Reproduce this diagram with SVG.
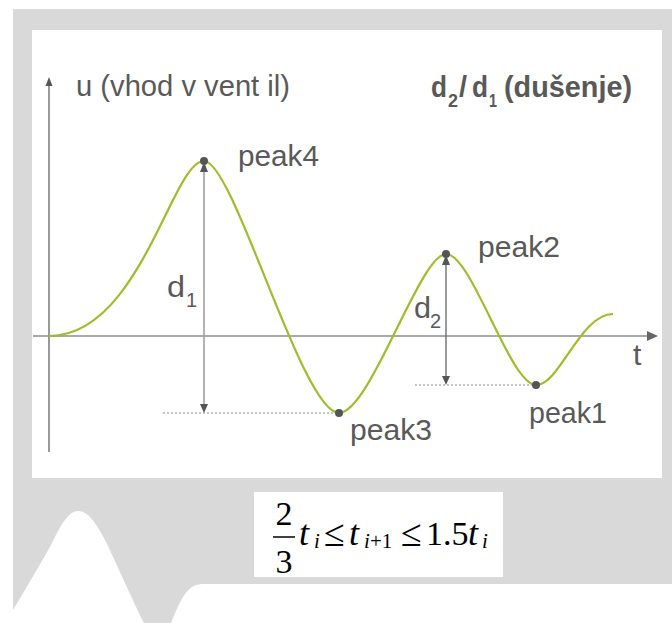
<svg xmlns="http://www.w3.org/2000/svg" width="672" height="623" viewBox="0 0 672 623">
<style>
.lbl{font-family:"Liberation Sans",Arial,sans-serif;font-size:30px;fill:#595959}
.sub{font-family:"Liberation Sans",Arial,sans-serif;font-size:20px;fill:#595959}
.bold{font-family:"Liberation Sans",Arial,sans-serif;font-size:29px;font-weight:bold;fill:#595959}
.bsub{font-family:"Liberation Sans",Arial,sans-serif;font-size:19px;font-weight:bold;fill:#595959}
.m{font-family:"Liberation Serif","Times New Roman",serif;font-size:34px;fill:#000}
.le{font-family:"Liberation Serif","Times New Roman",serif;font-size:38px;fill:#000}
.mi{font-family:"Liberation Serif","Times New Roman",serif;font-size:36px;font-style:italic;fill:#000}
.ms{font-family:"Liberation Serif","Times New Roman",serif;font-size:21px;fill:#000}
.msi{font-family:"Liberation Serif","Times New Roman",serif;font-size:21px;font-style:italic;fill:#000}
.dot{fill:#555}
.dotted{stroke:#8a8a8a;stroke-width:1;stroke-dasharray:2 2;fill:none}
.ah{fill:#555}
</style>
<g id="background">
<rect x="0" y="0" width="672" height="623" fill="#fff"/>
<rect x="13" y="9" width="659" height="614" fill="#d9d9d9"/>
<rect x="32" y="30" width="630" height="448" fill="#fff"/>
<path d="M13,610 C25,590 40,565 52,543 C60,527 68,511 78,511 C88,511 96,523 104,538 C115,560 130,595 144,623 L13,623 Z" fill="#fff"/>
<path d="M171,623 C177,608 183,593 192,587 C197,584 200,584 206,584 L672,584 L672,623 Z" fill="#fff"/>
</g>
<g id="axes">
<line x1="49" y1="452" x2="49" y2="84" stroke="#555" stroke-width="1.2"/>
<polygon class="ah" points="49,77 45.5,86 52.5,86"/>
<line x1="33" y1="336" x2="650" y2="336" stroke="#8c8c8c" stroke-width="1.6"/>
<polygon points="658,336 647,331 647,341" fill="#666"/>
<text class="lbl" x="76" y="96" textLength="214" lengthAdjust="spacingAndGlyphs">u (vhod v vent il)</text>
<text class="lbl" x="633" y="365">t</text>
</g>
<g id="curve">
<path d="M49,336 C140,336 172,161 204,161 C234,161 302,413 339,413 C370,413 420,254 446,254 C472,254 510,385 536,385 C560,385 580,314 613,314" fill="none" stroke="#9dbd2b" stroke-width="2.2"/>
</g>
<g id="connectors">
<line class="dotted" x1="163" y1="413" x2="339" y2="413"/>
<line class="dotted" x1="415" y1="385" x2="536" y2="385"/>
<line x1="204" y1="168" x2="204" y2="406" stroke="#9a9a9a" stroke-width="1.5"/>
<polygon class="ah" points="204,162 200,172 208,172"/>
<polygon class="ah" points="204,413 200,404 208,404"/>
<line x1="446" y1="260" x2="446" y2="378" stroke="#666" stroke-width="1.3"/>
<polygon class="ah" points="446,255 442,265 450,265"/>
<polygon class="ah" points="446,385 442,376 450,376"/>
</g>
<g id="peak4"><circle class="dot" cx="204" cy="161" r="4"/><text class="lbl" x="238" y="166" textLength="81" lengthAdjust="spacingAndGlyphs">peak4</text></g>
<g id="peak3"><circle class="dot" cx="339" cy="413" r="4"/><text class="lbl" x="350" y="440" textLength="82" lengthAdjust="spacingAndGlyphs">peak3</text></g>
<g id="peak2"><circle class="dot" cx="446" cy="254" r="4"/><text class="lbl" x="478" y="257" textLength="82" lengthAdjust="spacingAndGlyphs">peak2</text></g>
<g id="peak1"><circle class="dot" cx="536" cy="385" r="4"/><text class="lbl" x="529" y="423" textLength="78" lengthAdjust="spacingAndGlyphs">peak1</text></g>
<g id="d1"><text class="lbl" x="167" y="297" textLength="18" lengthAdjust="spacingAndGlyphs">d</text><text class="sub" x="186" y="307">1</text></g>
<g id="d2"><text class="lbl" x="414" y="318" textLength="17" lengthAdjust="spacingAndGlyphs">d</text><text class="sub" x="430" y="328">2</text></g>
<g id="title">
<text class="bold" x="431" y="97" textLength="16" lengthAdjust="spacingAndGlyphs">d</text>
<text class="bsub" x="448" y="107" textLength="10" lengthAdjust="spacingAndGlyphs">2</text>
<text class="bold" x="459" y="97">/</text>
<text class="bold" x="472" y="97" textLength="16" lengthAdjust="spacingAndGlyphs">d</text>
<text class="bsub" x="489" y="107" textLength="8" lengthAdjust="spacingAndGlyphs">1</text>
<text class="bold" x="504" y="97" textLength="128" lengthAdjust="spacingAndGlyphs">(dušenje)</text>
</g>
<g id="formula">
<rect x="254" y="492" width="249" height="85" fill="#fff"/>
<text class="m" x="284" y="525" text-anchor="middle">2</text>
<line x1="273" y1="537" x2="295" y2="537" stroke="#000" stroke-width="1.5"/>
<text class="m" x="284" y="573" text-anchor="middle">3</text>
<text class="mi" x="299" y="545">t</text>
<text class="msi" x="314" y="548">i</text>
<text class="le" x="324" y="546">≤</text>
<text class="mi" x="349" y="545">t</text>
<text class="msi" x="364" y="548">i</text>
<text class="ms" x="370" y="548">+1</text>
<text class="le" x="401" y="546">≤</text>
<text class="m" x="426" y="545">1.5</text>
<text class="mi" x="468" y="545">t</text>
<text class="msi" x="482" y="548">i</text>
</g>
</svg>
